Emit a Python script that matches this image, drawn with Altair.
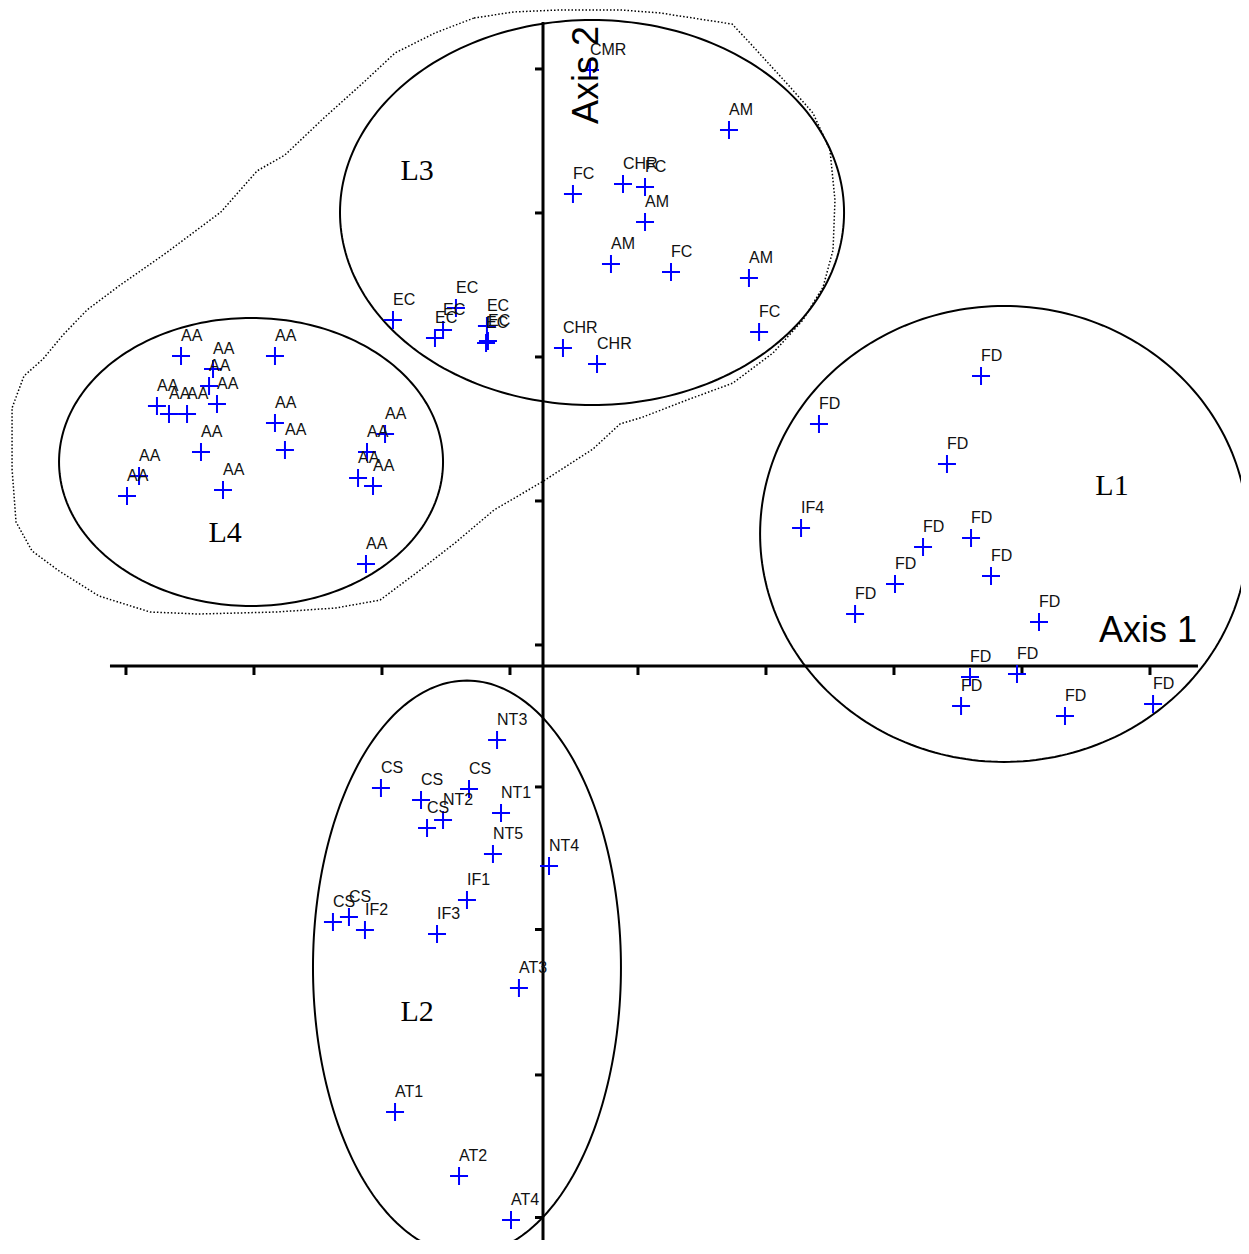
import altair as alt
import numpy as np
import pandas as pd

# ---------------- data (axis units: origin where the two axes cross) ----------------
labels = [
    # L4 group
    "AA", "AA", "AA", "AA", "AA", "AA", "AA", "AA", "AA", "AA",
    "AA", "AA", "AA", "AA", "AA", "AA", "AA", "AA", "AA",
    # EC / CHR / CMR
    "EC", "EC", "EC", "EC", "EC", "EC", "EC",
    "CHR", "CHR", "CMR",
    # upper right of L3
    "AM", "FC", "CHR", "FC", "AM", "AM", "FC", "AM", "FC",
    # L1 group
    "FD", "FD", "FD", "IF4", "FD", "FD", "FD", "FD", "FD", "FD",
    "FD", "FD", "FD", "FD", "FD",
    # L2 group
    "NT3", "CS", "CS", "CS", "NT2", "CS", "NT1", "NT5", "NT4", "IF1",
    "CS", "CS", "IF2", "IF3", "AT3", "AT1", "AT2", "AT4",
]
xs = [
    -2.828, -2.094, -2.578, -2.609, -2.547, -3.016, -2.922, -2.781, -2.094, -2.672,
    -2.016, -1.234, -1.375, -1.445, -1.328, -3.156, -3.250, -2.500, -1.383,
    -1.172, -0.844, -0.781, -0.680, -0.438, -0.445, -0.430,
    0.156, 0.422, 0.367,
    1.453, 0.234, 0.625, 0.797, 0.797, 0.531, 1.000, 1.609, 1.688,
    3.422, 2.156, 3.156, 2.016, 2.969, 3.344, 2.750, 3.500, 2.438, 3.875,
    3.336, 3.703, 3.266, 4.078, 4.766,
    -0.359, -1.266, -0.953, -0.578, -0.781, -0.906, -0.328, -0.391, 0.047, -0.594,
    -1.641, -1.516, -1.391, -0.828, -0.188, -1.156, -0.656, -0.250,
]
ys = [
    2.153, 2.153, 2.063, 1.944, 1.819, 1.806, 1.750, 1.750, 1.688, 1.486,
    1.500, 1.611, 1.486, 1.306, 1.250, 1.319, 1.181, 1.222, 0.708,
    2.403, 2.278, 2.333, 2.486, 2.361, 2.243, 2.257,
    2.208, 2.097, 4.139,
    3.722, 3.278, 3.347, 3.326, 3.083, 2.792, 2.736, 2.694, 2.319,
    2.014, 1.681, 1.403, 0.958, 0.826, 0.889, 0.569, 0.625, 0.361, 0.306,
    -0.076, -0.056, -0.278, -0.347, -0.264,
    -0.514, -0.847, -0.931, -0.854, -1.069, -1.125, -1.021, -1.306, -1.389, -1.625,
    -1.778, -1.743, -1.833, -1.861, -2.236, -3.097, -3.542, -3.847,
]

# group ellipses
ell_names = ["L1", "L2", "L3", "L4"]
ell_cx = [3.602, -0.594, 0.383, -2.281]
ell_cy = [0.917, -2.094, 3.149, 1.417]
ell_rx = [1.906, 1.203, 1.969, 1.500]
ell_ry = [1.583, 1.993, 1.337, 1.000]

# group names and where they are written
grp_text = ["L1", "L2", "L3", "L4"]
grp_x = [4.445, -0.984, -0.984, -2.484]
grp_y = [1.188, -2.465, 3.375, 0.861]

# dotted outline around L3 + L4
blob_x = [-0.539, -0.227, 0.133, 0.602, 0.914, 1.477, 1.617, 1.930, 2.109, 2.242,
          2.281, 2.266, 2.188, 2.031, 1.797, 1.484, 1.125, 0.781, 0.602, 0.391,
          -0.008, -0.383, -0.688, -0.969, -1.273, -1.617, -2.078, -2.695, -3.070, -3.469,
          -3.781, -3.992, -4.117, -4.148, -4.148, -4.055, -3.906, -3.750, -3.563, -3.313,
          -2.945, -2.516, -2.234, -2.016, -1.711, -1.398, -1.156, -0.844, -0.539]
blob_y = [4.500, 4.542, 4.556, 4.556, 4.535, 4.458, 4.326, 4.021, 3.840, 3.583,
          3.236, 2.889, 2.632, 2.403, 2.174, 1.965, 1.847, 1.729, 1.681, 1.507,
          1.278, 1.083, 0.854, 0.660, 0.458, 0.403, 0.375, 0.361, 0.375, 0.486,
          0.660, 0.799, 1.000, 1.368, 1.792, 2.014, 2.132, 2.299, 2.472, 2.639,
          2.868, 3.153, 3.438, 3.549, 3.806, 4.056, 4.257, 4.396, 4.500]

# axes
xaxis_ends = [-3.383, 5.117]
yaxis_ends = [4.472, -3.986]
x_ticks = [-3.258, -2.258, -1.258, -0.258, 0.742, 1.742, 2.742, 3.742, 4.742]
y_ticks = [4.146, 3.146, 2.146, 1.146, 0.146, -0.840, -1.830, -2.840, -3.830]
tick_len = 0.0625

axis_titles = ["Axis 1", "Axis 2"]
axis_title_x = [4.727, 0.430]
axis_title_y = [0.167, 4.104]

# ---------------- chart ----------------
W, H = 1233, 1232
XDOM = [-4.1797, 5.4531]
YDOM = [4.5694 - H / 144.0, 4.5694]

def X(field="x"):
    return alt.X(f"{field}:Q", scale=alt.Scale(domain=XDOM, nice=False, zero=False), axis=None)

def Y(field="y"):
    return alt.Y(f"{field}:Q", scale=alt.Scale(domain=YDOM, nice=False, zero=False), axis=None)

pts = pd.DataFrame({"label": labels, "x": xs, "y": ys})

t = np.linspace(0, 2 * np.pi, 241)
ell_rows = []
for n, cx, cy, rx, ry in zip(ell_names, ell_cx, ell_cy, ell_rx, ell_ry):
    for i, a in enumerate(t):
        ell_rows.append({"name": n, "i": i, "x": cx + rx * np.cos(a), "y": cy + ry * np.sin(a)})
ell = pd.DataFrame(ell_rows)

blob = pd.DataFrame({"i": range(len(blob_x)), "x": blob_x, "y": blob_y})

axes_df = pd.DataFrame({
    "x": [xaxis_ends[0], 0.0], "x2": [xaxis_ends[1], 0.0],
    "y": [0.0, yaxis_ends[0]], "y2": [0.0, yaxis_ends[1]],
})
xt = pd.DataFrame({"x": x_ticks, "x2": x_ticks, "y": [0.0] * len(x_ticks), "y2": [-tick_len] * len(x_ticks)})
yt = pd.DataFrame({"x": [-tick_len] * len(y_ticks), "x2": [0.0] * len(y_ticks), "y": y_ticks, "y2": y_ticks})
ticks = pd.concat([xt, yt], ignore_index=True)

grp = pd.DataFrame({"t": grp_text, "x": grp_x, "y": grp_y})

blob_layer = alt.Chart(blob).mark_line(
    color="black", strokeWidth=1.5, strokeDash=[1.5, 2], interpolate="linear"
).encode(x=X(), y=Y(), order="i:Q")

ell_layer = alt.Chart(ell).mark_line(color="black", strokeWidth=2, clip=False).encode(
    x=X(), y=Y(), detail="name:N", order="i:Q"
)

axes_layer = alt.Chart(axes_df).mark_rule(color="black", strokeWidth=3).encode(
    x=X(), x2="x2:Q", y=Y(), y2="y2:Q"
)
ticks_layer = alt.Chart(ticks).mark_rule(color="black", strokeWidth=3).encode(
    x=X(), x2="x2:Q", y=Y(), y2="y2:Q"
)

marks = alt.Chart(pts).mark_point(
    shape="M-1,0L1,0M0,-1L0,1", size=324, filled=False, strokeWidth=2,
    color="#0000ff", opacity=1
).encode(x=X(), y=Y())

texts = alt.Chart(pts).mark_text(
    align="left", baseline="alphabetic", dy=-15, fontSize=16,
    font="Liberation Sans", color="#111111"
).encode(x=X(), y=Y(), text="label:N")

grp_layer = alt.Chart(grp).mark_text(
    align="center", baseline="alphabetic", fontSize=30, font="Liberation Serif", color="black"
).encode(x=X(), y=Y(), text="t:N")

ax1 = alt.Chart(pd.DataFrame({"t": axis_titles[:1], "x": axis_title_x[:1], "y": axis_title_y[:1]})).mark_text(
    align="center", baseline="alphabetic", fontSize=36, font="Liberation Sans", color="black"
).encode(x=X(), y=Y(), text="t:N")
ax2 = alt.Chart(pd.DataFrame({"t": axis_titles[1:], "x": axis_title_x[1:], "y": axis_title_y[1:]})).mark_text(
    align="center", baseline="alphabetic", fontSize=36, font="Liberation Sans", color="black", angle=270
).encode(x=X(), y=Y(), text="t:N")

chart = alt.layer(
    blob_layer, ell_layer, axes_layer, ticks_layer, marks, texts, grp_layer, ax1, ax2
).properties(
    width=W, height=H, padding=0, autosize=alt.AutoSizeParams(type="none"),
    background="white"
).configure_view(stroke=None)

chart.save("out.html", embed_options={"renderer": "svg", "actions": False})
